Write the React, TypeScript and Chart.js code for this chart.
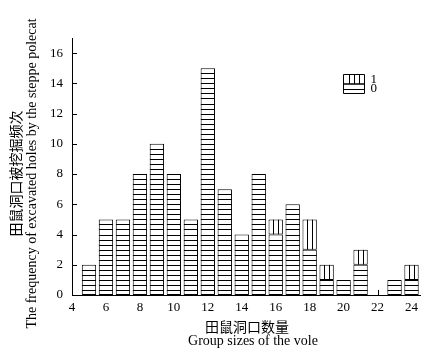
import React, { useEffect, useRef } from "react";
import { Chart, registerables } from "chart.js";

Chart.register(...registerables);

// ---- data ----
const groupSizes = [5, 6, 7, 8, 9, 10, 11, 12, 13, 14, 15, 16, 17, 18, 19, 20, 21, 22, 23, 24];
const count0 = [2, 5, 5, 8, 10, 8, 5, 15, 7, 4, 8, 4, 6, 3, 1, 1, 2, null, 1, 1];
const count1 = [null, null, null, null, null, null, null, null, null, null, null, 1, null, 2, 1, null, 1, null, null, 1];
const seriesLabels = ["0", "1"];
const xTicks = [4, 6, 8, 10, 12, 14, 16, 18, 20, 22, 24];
const yTicks = [0, 2, 4, 6, 8, 10, 12, 14, 16];
const xTitle = ["田鼠洞口数量", "Group sizes of the vole"];
const yTitle = ["田鼠洞口被挖掘频次", "The frequency of excavated holes by the steppe polecat"];

const SERIF = "'Liberation Serif', 'Noto Sans CJK SC', serif";

const insideTicks = {
  id: "insideTicks",
  beforeDatasetsDraw(chart: any) {
    const ctx = chart.ctx;
    const xs = chart.scales.x;
    const ys = chart.scales.y;
    const ca = chart.chartArea;
    ctx.save();
    ctx.strokeStyle = "#000";
    ctx.lineWidth = 1;
    ctx.beginPath();
    ys.ticks.forEach((_t: any, i: number) => {
      const py = Math.round(ys.getPixelForTick(i)) + 0.5;
      ctx.moveTo(ca.left, py);
      ctx.lineTo(ca.left + 5, py);
    });
    xs.ticks.forEach((_t: any, i: number) => {
      const px = Math.round(xs.getPixelForTick(i)) + 0.5;
      ctx.moveTo(px, ca.bottom);
      ctx.lineTo(px, ca.bottom - 5);
    });
    ctx.stroke();
    ctx.restore();
  },
};

const hatch = {
  id: "hatch",
  afterDatasetsDraw(chart: any) {
    const ctx = chart.ctx;
    const ys = chart.scales.y;
    chart.data.datasets.forEach((ds: any, i: number) => {
      const meta = chart.getDatasetMeta(i);
      meta.data.forEach((el: any, j: number) => {
        const raw = ds.data[j];
        if (raw == null || raw.y == null) return;
        const { x, y, base, width } = el.getProps(["x", "y", "base", "width"], true);
        const left = x - width / 2;
        const right = x + width / 2;
        const top = Math.min(y, base);
        const bottom = Math.max(y, base);
        ctx.save();
        ctx.beginPath();
        ctx.rect(left, top, right - left, bottom - top);
        ctx.clip();
        ctx.strokeStyle = "#000";
        ctx.lineWidth = 1;
        ctx.beginPath();
        if (ds.hatch === "h") {
          const y0 = ys.getPixelForValue(0);
          const step = y0 - ys.getPixelForValue(1 / 3);
          for (let yy = y0 - step; yy > top + 1.5; yy -= step) {
            const py = Math.round(yy) + 0.5;
            ctx.moveTo(left, py);
            ctx.lineTo(right, py);
          }
        } else {
          for (let k = 1; k < 3; k++) {
            const px = Math.round(left + (k * width) / 3) + 0.5;
            ctx.moveTo(px, top);
            ctx.lineTo(px, bottom);
          }
        }
        ctx.stroke();
        ctx.restore();
      });
    });
  },
};

const customLegend = {
  id: "customLegend",
  afterDraw(chart: any) {
    const ctx = chart.ctx;
    const ca = chart.chartArea;
    const bx = Math.round(ca.left + 271) + 0.5;
    const by = Math.round(ca.top + 36) + 0.5;
    const w = 21;
    const h = 9.5;
    ctx.save();
    ctx.strokeStyle = "#000";
    ctx.lineWidth = 1;
    ctx.fillStyle = "#000";
    ctx.font = `13px ${SERIF}`;
    ctx.textBaseline = "middle";
    ctx.textAlign = "left";
    const order = [1, 0];
    order.forEach((di, row) => {
      const ds = chart.data.datasets[di];
      const t = by + row * h;
      ctx.beginPath();
      ctx.rect(bx, t, w, h);
      if (ds.hatch === "v") {
        for (let k = 1; k < 4; k++) {
          const px = Math.round(bx + (k * w) / 4) + 0.5;
          ctx.moveTo(px, t);
          ctx.lineTo(px, t + h);
        }
      } else {
        const py = Math.round(t + h / 2) + 0.5;
        ctx.moveTo(bx, py);
        ctx.lineTo(bx + w, py);
      }
      ctx.stroke();
      ctx.fillText(ds.label, bx + w + 6, t + h / 2);
    });
    ctx.restore();
  },
};

const axisTitles = {
  id: "axisTitles",
  afterDraw(chart: any) {
    const ctx = chart.ctx;
    const ca = chart.chartArea;
    ctx.save();
    ctx.fillStyle = "#000";
    ctx.textAlign = "center";
    ctx.textBaseline = "middle";
    const cx = (ca.left + ca.right) / 2;
    ctx.font = `14px ${SERIF}`;
    ctx.fillText(xTitle[0], cx + 1, ca.bottom + 33);
    ctx.fillText(xTitle[1], cx + 7, ca.bottom + 46);
    const cy = (ca.top + ca.bottom) / 2 + 7;
    ctx.translate(17, cy);
    ctx.rotate(-Math.PI / 2);
    ctx.font = `14px ${SERIF}`;
    ctx.fillText(yTitle[0], 0, 0);
    ctx.font = `14px ${SERIF}`;
    ctx.fillText(yTitle[1], 0, 15);
    ctx.restore();
  },
};

export default function App() {
  const ref = useRef<HTMLCanvasElement | null>(null);
  useEffect(() => {
    if (!ref.current) return;
    const common = {
      backgroundColor: "#fff",
      borderColor: "#000",
      borderWidth: 1,
      borderSkipped: false,
      categoryPercentage: 1,
      barPercentage: 0.845,
      stack: "s",
    };
    const chart = new Chart(ref.current, {
      type: "bar",
      data: {
        datasets: [
          {
            ...common,
            label: seriesLabels[0],
            hatch: "h",
            data: groupSizes.map((g, i) => ({ x: g, y: count0[i] })),
          } as any,
          {
            ...common,
            label: seriesLabels[1],
            hatch: "v",
            data: groupSizes.map((g, i) => ({ x: g, y: count1[i] })),
          } as any,
        ],
      },
      options: {
        animation: false,
        responsive: false,
        layout: { padding: { top: 38, right: 26, left: 0, bottom: 0 } },
        plugins: { legend: { display: false }, tooltip: { enabled: false } },
        scales: {
          x: {
            type: "linear",
            stacked: true,
            offset: false,
            min: 4,
            max: 24.5,
            afterBuildTicks: (s: any) => {
              s.ticks = xTicks.map((v) => ({ value: v }));
            },
            afterFit: (s: any) => {
              s.height = 64;
            },
            grid: { display: false, drawTicks: false, offset: false },
            border: { display: true, color: "#000", width: 1 },
            ticks: {
              color: "#000",
              padding: 5,
              maxRotation: 0,
              autoSkip: false,
              font: { family: SERIF, size: 13 },
            },
          },
          y: {
            stacked: true,
            min: 0,
            max: 17,
            afterBuildTicks: (s: any) => {
              s.ticks = yTicks.map((v) => ({ value: v }));
            },
            afterFit: (s: any) => {
              s.width = 72;
            },
            grid: { display: false, drawTicks: false },
            border: { display: true, color: "#000", width: 1 },
            ticks: {
              color: "#000",
              padding: 9,
              autoSkip: false,
              font: { family: SERIF, size: 13 },
            },
          },
        },
      } as any,
      plugins: [insideTicks, hatch, customLegend, axisTitles],
    });
    return () => chart.destroy();
  }, []);
  return (
    <div style={{ position: "fixed", left: 0, top: 0, width: 446, height: 359, background: "#fff" }}>
      <canvas ref={ref} width={446} height={359} />
    </div>
  );
}
